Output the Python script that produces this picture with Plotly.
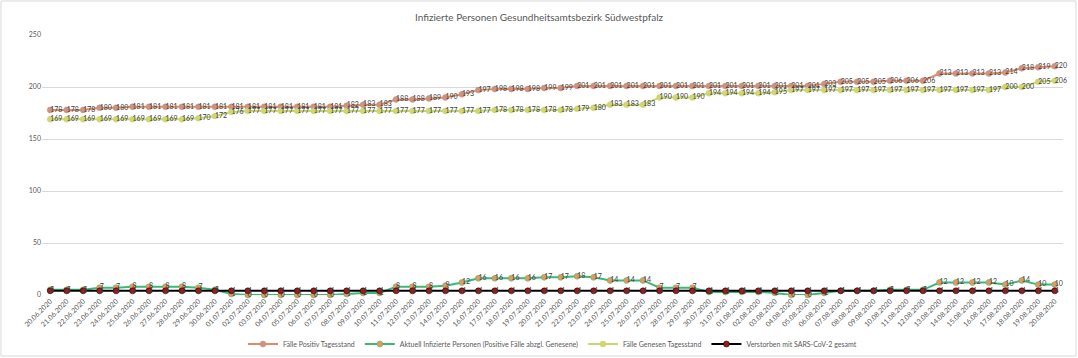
import plotly.graph_objects as go

dates = ["20.06.2020","21.06.2020","22.06.2020","23.06.2020","24.06.2020","25.06.2020","26.06.2020",
         "27.06.2020","28.06.2020","29.06.2020","30.06.2020","01.07.2020","02.07.2020","03.07.2020",
         "04.07.2020","05.07.2020","06.07.2020","07.07.2020","08.07.2020","09.07.2020","10.07.2020",
         "11.07.2020","12.07.2020","13.07.2020","14.07.2020","15.07.2020","16.07.2020","17.07.2020",
         "18.07.2020","19.07.2020","20.07.2020","21.07.2020","22.07.2020","23.07.2020","24.07.2020",
         "25.07.2020","26.07.2020","27.07.2020","28.07.2020","29.07.2020","30.07.2020","31.07.2020",
         "01.08.2020","02.08.2020","03.08.2020","04.08.2020","05.08.2020","06.08.2020","07.08.2020",
         "08.08.2020","09.08.2020","10.08.2020","11.08.2020","12.08.2020","13.08.2020","14.08.2020",
         "15.08.2020","16.08.2020","17.08.2020","18.08.2020","19.08.2020","20.08.2020"]

positiv = [178,178,178,180,180,181,181,181,181,181,181,181,181,181,181,181,181,181,182,183,183,
           188,188,189,190,193,197,198,198,198,199,199,201,201,201,201,201,201,201,201,201,201,
           201,201,201,201,201,203,205,205,205,206,206,206,213,213,213,213,214,218,219,220]

aktuell = [5,5,5,7,7,8,8,8,8,7,5,1,0,0,0,0,0,0,1,2,2,
           8,8,8,9,12,16,16,16,16,17,17,18,17,14,14,14,7,7,7,3,3,
           3,3,2,0,0,2,4,4,4,5,5,5,12,12,12,12,10,14,10,10]

genesen = [169,169,169,169,169,169,169,169,169,170,172,176,177,177,177,177,177,177,177,177,177,
           177,177,177,177,177,177,178,178,178,178,178,179,180,183,183,183,190,190,190,194,194,
           194,194,195,197,197,197,197,197,197,197,197,197,197,197,197,197,200,200,205,206]

verstorben = [4,4,4,4,4,4,4,4,4,4,4,4,4,4,4,4,4,4,4,4,4,
              4,4,4,4,4,4,4,4,4,4,4,4,4,4,4,4,4,4,4,4,4,
              4,4,4,4,4,4,4,4,4,4,4,4,4,4,4,4,4,4,4,4]

series = [
    ("Fälle Positiv Tagesstand", positiv, "#E08C62", "#C8948A"),
    ("Aktuell Infizierte Personen (Positive Fälle abzgl. Genesene)", aktuell, "#3DB874", "#E39A5E"),
    ("Fälle Genesen Tagesstand", genesen, "#C6D870", "#D2D672"),
    ("Verstorben mit SARS-CoV-2 gesamt", verstorben, "#000000", "#9A1A1A"),
]

FONT = "Lato, Open Sans, sans-serif"
fig = go.Figure()
for name, vals, lc, mc in series:
    fig.add_trace(go.Scatter(
        x=dates, y=vals, name=name, mode="lines+markers",
        line=dict(color=lc, width=2),
        marker=dict(size=6, color=mc, line=dict(width=0.5, color=lc)),
        cliponaxis=False,
    ))
for name, vals, lc, mc in series:
    fig.add_trace(go.Scatter(
        x=dates, y=vals, mode="text", text=[str(v) for v in vals],
        textposition="middle right", textfont=dict(size=7, color="#404040", family=FONT),
        showlegend=False, hoverinfo="skip", cliponaxis=False,
    ))

fig.update_layout(
    width=1078, height=358,
    margin=dict(l=42, r=15, t=35, b=63, autoexpand=False),
    paper_bgcolor="white", plot_bgcolor="white",
    font=dict(family=FONT, color="#595959", size=7),
    title=dict(text="Infizierte Personen Gesundheitsamtsbezirk Südwestpfalz",
               x=0.5, xanchor="center", y=0.952, yanchor="middle",
               font=dict(size=10, color="#595959", family=FONT)),
    showlegend=True,
    legend=dict(orientation="h", x=0.5, xanchor="center", yref="container", y=0.039,
                yanchor="middle",
                font=dict(size=7, color="#595959", family=FONT), itemwidth=30,
                bgcolor="rgba(0,0,0,0)"),
    xaxis=dict(type="category", range=[-0.5, 61.5], tickangle=-45, showgrid=False,
               showline=False, ticks="", tickfont=dict(size=7, color="#595959")),
    yaxis=dict(range=[0, 250], dtick=50, showgrid=True, gridcolor="#D9D9D9", gridwidth=1,
               zeroline=False, showline=False, ticks="", tickfont=dict(size=7, color="#595959")),
    shapes=[dict(type="rect", xref="paper", yref="paper",
                 x0=-0.0402, x1=1.0127, y0=-0.2346, y1=1.1308,
                 line=dict(color="#D9D9D9", width=1), fillcolor="rgba(0,0,0,0)", layer="below")],
)

fig.write_html("out.html", config={"displayModeBar": False},
               post_script="document.body.style.margin='0';document.body.style.padding='0';")
